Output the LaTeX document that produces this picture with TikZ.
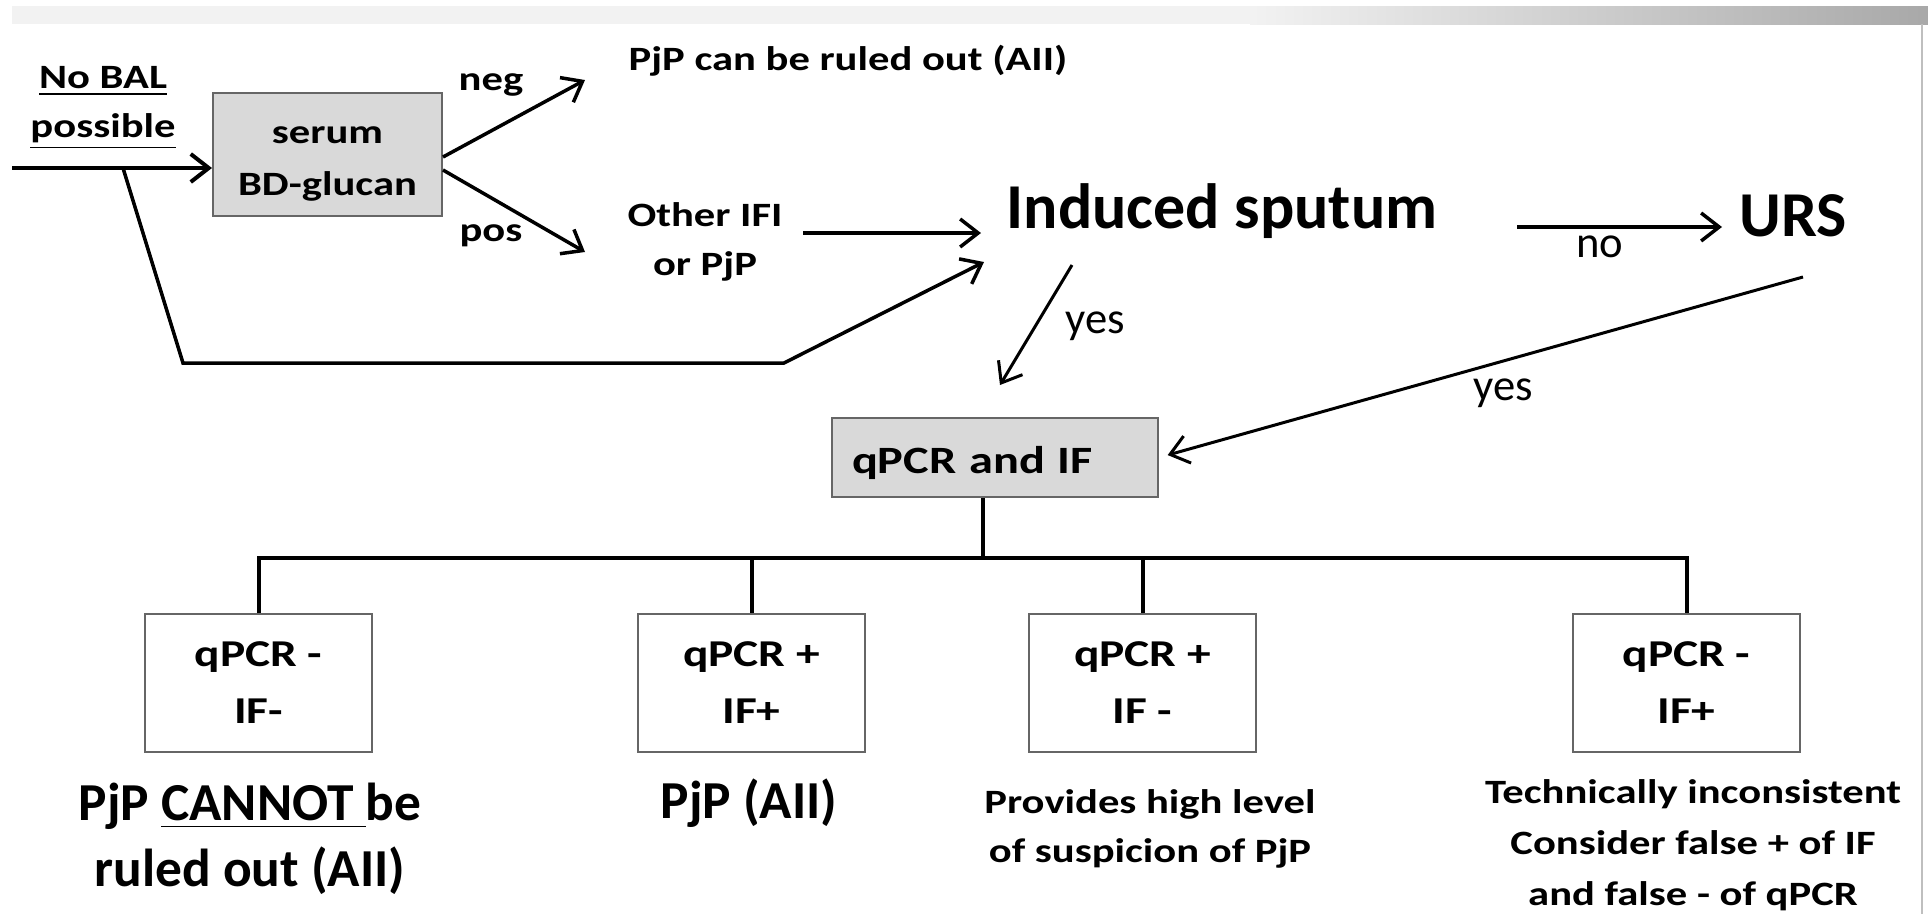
\documentclass[tikz,border=0pt]{standalone}
\usepackage{fontspec}
\setmainfont{Carlito}
\newfontfamily\widefont[FakeStretch=1.25]{Carlito}
\usetikzlibrary{arrows.meta}

\tikzset{
  arr/.style={-{Straight Barb[length=1.8mm,width=2.8mm]}, line width=0.35mm},
  tree/.style={line width=0.4mm},
  greybox/.style={draw=black!60, line width=0.2mm, fill=black!15, align=center,
    font=\widefont\bfseries\fontsize{9.7}{14.8}\selectfont},
  resbox/.style={draw=black!60, line width=0.2mm, minimum width=22.7mm, minimum height=13.8mm,
    align=center, font=\widefont\bfseries\fontsize{10.8}{16.2}\selectfont},
  lbl/.style={font=\widefont\bfseries\fontsize{9.7}{13.7}\selectfont, align=center, inner sep=0pt},
  head/.style={font=\bfseries\fontsize{18.2}{22}\selectfont, inner sep=0pt},
  verdict/.style={font=\bfseries\fontsize{15.2}{18.5}\selectfont, align=center, inner sep=0pt},
  answer/.style={font=\fontsize{12.7}{15}\selectfont, inner sep=0pt},
}

\begin{document}
\begin{tikzpicture}[x=0.1mm, y=-0.1mm]
  \useasboundingbox (0,0) rectangle (1928,914);
  % slide frame
  \fill[black!5] (12,6) rectangle (1250,24);
  \shade[left color=black!5, right color=black!34] (1250,6) rectangle (1928,24);
  \draw[black!25, line width=0.15mm] (1922,24) -- (1922,914);

  % first step
  \node[lbl, anchor=base] (nobal) at (103,137) {\underline{No BAL}\\\underline{possible}};
  \node[greybox, minimum width=22.9mm, minimum height=12.3mm, text height=8.8mm] (serum)
    at (327.5,154.5) {serum\\BD-glucan};
  \node[lbl, anchor=base] (neg) at (491,90) {neg};
  \node[lbl, anchor=base] (pos) at (491,241) {pos};
  \node[lbl, anchor=base west] (ruled) at (628,70) {PjP can be ruled out (AII)};
  \node[lbl, anchor=base] (other) at (705,275) {Other IFI\\or PjP};
  \node[head, anchor=base] (induced) at (1222,228) {Induced sputum};
  \node[head, anchor=base] (urs) at (1793,236) {URS};
  \node[answer, anchor=base] (no) at (1600,257) {no};
  \node[answer, anchor=base] (yes1) at (1095,333) {yes};
  \node[answer, anchor=base] (yes2) at (1503,400) {yes};

  \coordinate (start) at (12,168);
  \coordinate (fork) at (123,168);
  \coordinate (negtip) at (585,80);
  \coordinate (postip) at (585,252);
  \coordinate (otherout) at (803,233);
  \coordinate (sputin) at (981,233);
  \coordinate (sputlow) at (984,262);
  \coordinate (sputout) at (1072,265);
  \coordinate (qpcrtip) at (1000,385);
  \coordinate (nostart) at (1517,227);
  \coordinate (ursin) at (1722,227);
  \coordinate (ursout) at (1803,277);

  \draw[arr, line width=0.4mm] (start) -- (start -| serum.west);
  \draw[arr] (fork) -- (183,363) -- (784,363) -- (sputlow);
  \draw[arr] ([yshift=-0.25mm]serum.east) -- (negtip);
  \draw[arr] ([yshift=-1.55mm]serum.east) -- (postip);
  \draw[arr] (otherout) -- (sputin);
  \draw[arr, line width=0.3mm] (sputout) -- (qpcrtip);
  \draw[arr] (nostart) -- (ursin);

  % second step
  \node[greybox, font=\widefont\bfseries\fontsize{11}{13}\selectfont, text width=28.6mm, align=left,
    inner xsep=2mm, text height=3.9mm, text depth=0.8mm, minimum height=7.9mm] (qpcr)
    at (995,457.5) {qPCR and IF};
  \draw[arr, line width=0.3mm, shorten >=0.9mm] (ursout) -- (qpcr.east);

  \node[resbox] (r1) at (258.5,683) {qPCR -\\IF-};
  \node[resbox] (r2) at (751.5,683) {qPCR +\\IF+};
  \node[resbox] (r3) at (1142.5,683) {qPCR +\\IF -};
  \node[resbox] (r4) at (1686.5,683) {qPCR -\\IF+};

  \coordinate (hub) at (983,558);
  \draw[tree] (qpcr.south -| hub) -- (hub);
  \draw[tree] (r1.north) |- (r4.north |- hub) -- (r4.north);
  \foreach \b in {r2,r3}
    \draw[tree] (\b.north |- hub) -- (\b.north);

  % outcomes
  \node[verdict, anchor=base] (v1) at (250,886) {PjP \underline{CANNOT\ }be\\ruled out (AII)};
  \node[verdict, anchor=base] (v2) at (749,818) {PjP (AII)};
  \node[lbl, anchor=base] (v3) at (1150,862) {Provides high level\\of suspicion of PjP};
  \node[lbl, anchor=base, font=\widefont\bfseries\fontsize{9.7}{14.4}\selectfont] (v4) at (1693,905)
    {Technically inconsistent\\Consider false + of IF\\and false - of qPCR};
\end{tikzpicture}
\end{document}
